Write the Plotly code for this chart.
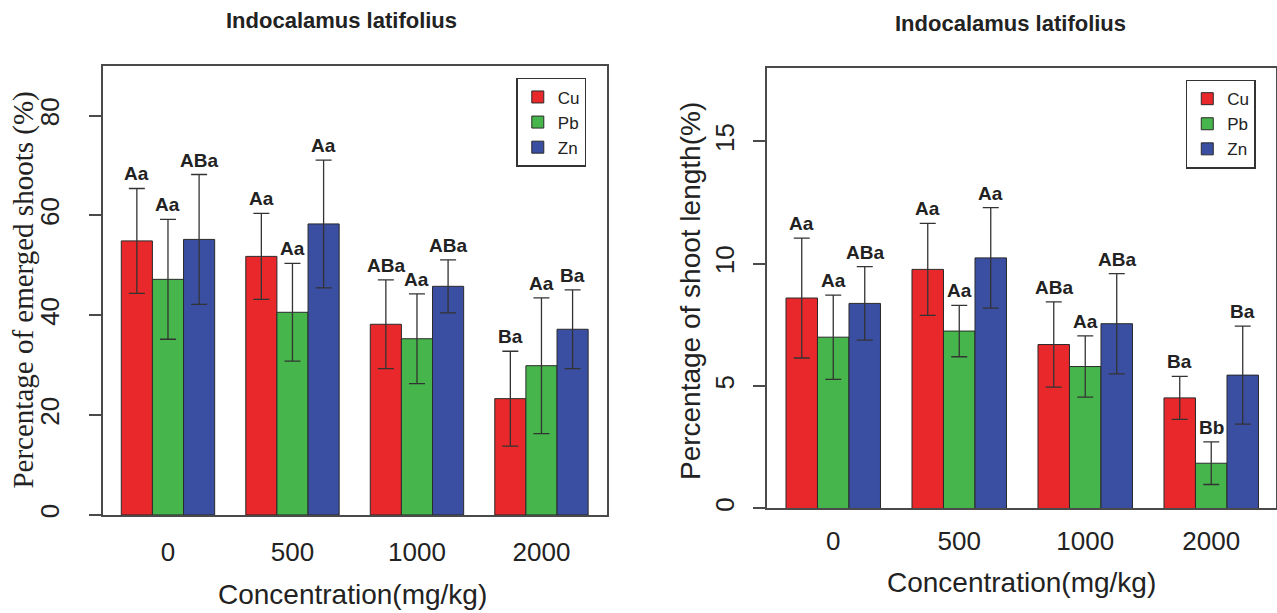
import plotly.graph_objects as go

# ---------------- data ----------------
concentrations = ["0", "500", "1000", "2000"]
metals = ["Cu", "Pb", "Zn"]
metal_colors = ["#E8282A", "#46B54B", "#3A4EA2"]

# Panel 1: Percentage of emerged shoots (%)
emerged_cu = [54.9, 51.8, 38.2, 23.3]
emerged_pb = [47.2, 40.6, 35.3, 29.9]
emerged_zn = [55.2, 58.3, 45.8, 37.2]
emerged_cu_sd = [10.5, 8.6, 8.9, 9.5]
emerged_pb_sd = [12.0, 9.8, 9.0, 13.6]
emerged_zn_sd = [13.0, 12.8, 5.3, 7.9]
emerged_cu_lbl = ["Aa", "Aa", "ABa", "Ba"]
emerged_pb_lbl = ["Aa", "Aa", "Aa", "Aa"]
emerged_zn_lbl = ["ABa", "Aa", "ABa", "Ba"]

# Panel 2: Percentage of shoot length (%)
length_cu = [8.6, 9.77, 6.7, 4.52]
length_pb = [7.0, 7.25, 5.8, 1.85]
length_zn = [8.38, 10.24, 7.55, 5.45]
length_cu_sd = [2.45, 1.88, 1.74, 0.88]
length_pb_sd = [1.72, 1.05, 1.25, 0.87]
length_zn_sd = [1.5, 2.05, 2.05, 2.0]
length_cu_lbl = ["Aa", "Aa", "ABa", "Ba"]
length_pb_lbl = ["Aa", "Aa", "Aa", "Bb"]
length_zn_lbl = ["ABa", "Aa", "ABa", "Ba"]

panel_titles = ["Indocalamus latifolius", "Indocalamus latifolius"]
y_titles = ["Percentage of emerged shoots (%)", "Percentage of shoot length(%)"]
x_title = "Concentration(mg/kg)"

# ---------------- figure ----------------
W, H = 1277, 613
SANS = "Liberation Sans, Arial, sans-serif"
SERIF = "Liberation Serif, Times New Roman, serif"
TXT = "#222222"
FRAME = "#4a4a4a"

fig = go.Figure()

panels = [
    dict(means=[emerged_cu, emerged_pb, emerged_zn],
         sds=[emerged_cu_sd, emerged_pb_sd, emerged_zn_sd],
         lbls=[emerged_cu_lbl, emerged_pb_lbl, emerged_zn_lbl],
         xa="x", ya="y", legend="legend"),
    dict(means=[length_cu, length_pb, length_zn],
         sds=[length_cu_sd, length_pb_sd, length_zn_sd],
         lbls=[length_cu_lbl, length_pb_lbl, length_zn_lbl],
         xa="x2", ya="y2", legend="legend2"),
]

annotations = []
ngroups = len(metals)
bargap = 0.25
bw = (1 - bargap) / ngroups
for p in panels:
    for j, m in enumerate(metals):
        fig.add_trace(go.Bar(
            x=concentrations, y=p["means"][j], name=m,
            marker=dict(color=metal_colors[j], line=dict(color="#2a2a2a", width=1)),
            error_y=dict(type="data", array=p["sds"][j], visible=True,
                         color="#333333", thickness=1.3, width=8),
            xaxis=p["xa"], yaxis=p["ya"], legend=p["legend"],
            offsetgroup=str(j), hoverinfo="skip"))
        for i, c in enumerate(concentrations):
            annotations.append(dict(
                x=i + (j - (ngroups - 1) / 2) * bw,
                y=p["means"][j][i] + p["sds"][j][i],
                xref=p["xa"], yref=p["ya"], text=p["lbls"][j][i],
                showarrow=False, yanchor="bottom", xanchor="center", yshift=2,
                font=dict(family=SANS, size=19, color=TXT, weight="bold")))

# panel titles, axis titles
title_pos = [(342, 21), (1011, 24)]
for (px, py), t in zip(title_pos, panel_titles):
    annotations.append(dict(x=px / W, y=1 - py / H, xref="paper", yref="paper",
                            text=t, showarrow=False, xanchor="center", yanchor="middle",
                            font=dict(family=SANS, size=22, color=TXT, weight="bold")))

annotations.append(dict(x=24 / W, y=1 - 291 / H, xref="paper", yref="paper",
                        text=y_titles[0], textangle=-90, showarrow=False,
                        xanchor="center", yanchor="middle",
                        font=dict(family=SERIF, size=29, color=TXT)))
annotations.append(dict(x=691 / W, y=1 - 292 / H, xref="paper", yref="paper",
                        text=y_titles[1], textangle=-90, showarrow=False,
                        xanchor="center", yanchor="middle",
                        font=dict(family=SANS, size=28, color=TXT)))
for px, py in [(353, 597), (1022, 585)]:
    annotations.append(dict(x=px / W, y=1 - py / H, xref="paper", yref="paper",
                            text=x_title, showarrow=False,
                            xanchor="center", yanchor="middle",
                            font=dict(family=SANS, size=28, color=TXT)))

xcommon = dict(showgrid=False, zeroline=False, showline=True, mirror=True,
               linecolor=FRAME, linewidth=1.5, ticks="", type="category",
               tickfont=dict(family=SANS, size=26, color=TXT))
ycommon = dict(showgrid=False, zeroline=False, showline=True, mirror=True,
               linecolor=FRAME, linewidth=1.5, ticks="outside", ticklen=12,
               tickcolor=FRAME, tickwidth=1.5, tickangle=-90,
               tickfont=dict(family=SANS, size=26, color=TXT))

legend_common = dict(xanchor="left", yanchor="top",
                     bordercolor="#333333", borderwidth=1.5, bgcolor="white",
                     font=dict(family=SANS, size=17, color=TXT),
                     entrywidth=42, entrywidthmode="pixels")

fig.update_layout(
    width=W, height=H, margin=dict(l=0, r=0, t=0, b=0),
    paper_bgcolor="white", plot_bgcolor="white",
    barmode="group", bargap=bargap, bargroupgap=0,
    xaxis=dict(xcommon, domain=[102.7 / W, 607.3 / W], range=[-0.525, 3.525],
               anchor="y", ticklabelstandoff=13),
    yaxis=dict(ycommon, domain=[1 - 517.5 / H, 1 - 66 / H], range=[0, 90],
               tickvals=[0, 20, 40, 60, 80], anchor="x", ticklabelstandoff=19),
    xaxis2=dict(xcommon, domain=[767.7 / W, 1276.5 / W], range=[-0.525, 3.51],
                anchor="y2", ticklabelstandoff=9),
    yaxis2=dict(ycommon, domain=[1 - 511 / H, 1 - 68.3 / H], range=[0, 18],
                tickvals=[0, 5, 10, 15], anchor="x2", ticklabelstandoff=9),
    legend=dict(legend_common, x=516.7 / W, y=1 - 78.3 / H),
    legend2=dict(legend_common, x=1186.7 / W, y=1 - 80 / H),
    annotations=annotations,
    showlegend=True,
)

fig.write_html("out.html", config={"displayModeBar": False},
               post_script="document.body.style.margin='0';document.body.style.overflow='hidden';")
